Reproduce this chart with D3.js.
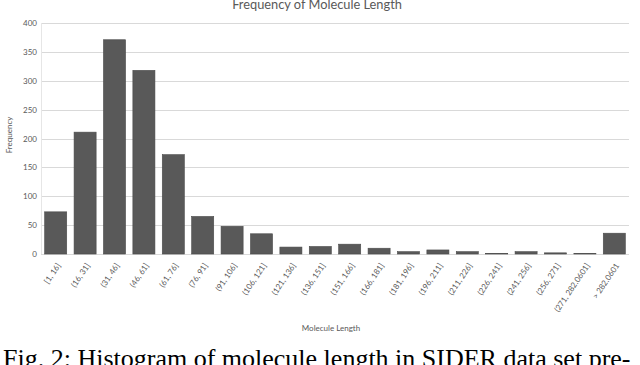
<!DOCTYPE html>
<html>
<head>
<meta charset="utf-8">
<script src="https://cdn.jsdelivr.net/npm/d3@7"></script>
<style>
  body { margin: 0; background: #fff; }
  svg { display: block; }
</style>
</head>
<body>
<script>
let bins = ['[1, 16]', '(16, 31]', '(31, 46]', '(46, 61]', '(61, 76]', '(76, 91]',
  '(91, 106]', '(106, 121]', '(121, 136]', '(136, 151]', '(151, 166]', '(166, 181]',
  '(181, 196]', '(196, 211]', '(211, 226]', '(226, 241]', '(241, 256]', '(256, 271]',
  '(271, 282.0601]', '> 282.0601']
let counts = [73, 211, 371, 318, 172, 65, 48, 35, 12, 13, 17, 10, 4, 7, 4, 1, 4, 2, 1, 36]
let yTicks = [0, 50, 100, 150, 200, 250, 300, 350, 400]

let width = 640,
  height = 365

let margin = { top: 23, left: 41, right: 11, bottom: 111 }

let svg = d3.select('body')
  .append('svg')
  .attr('width', width)
  .attr('height', height)

let x = d3.scaleBand()
  .domain(bins)
  .range([margin.left, width - margin.right])
  .paddingInner(0.25)
  .paddingOuter(0.125)

let y = d3.scaleLinear()
  .domain([0, 400])
  .range([height - margin.bottom, margin.top])

let grey = '#595959'

// gridlines
svg.append('g')
  .selectAll('line')
  .data(yTicks)
  .enter()
  .append('line')
  .attr('x1', margin.left)
  .attr('x2', width - margin.right)
  .attr('y1', d => Math.round(y(d)) + 0.5)
  .attr('y2', d => Math.round(y(d)) + 0.5)
  .attr('stroke', '#d9d9d9')
  .attr('stroke-width', 1)

svg.append('line')
  .attr('x1', margin.left + 0.5)
  .attr('x2', margin.left + 0.5)
  .attr('y1', y(400))
  .attr('y2', y(0))
  .attr('stroke', '#e6e6e6')

// y tick labels
svg.append('g')
  .selectAll('text')
  .data(yTicks)
  .enter()
  .append('text')
  .attr('x', 37)
  .attr('y', d => y(d) + 3)
  .attr('text-anchor', 'end')
  .attr('font-family', 'Lato, sans-serif')
  .attr('font-size', '8px')
  .attr('fill', grey)
  .text(d => d)

// bars
svg.append('g')
  .selectAll('rect')
  .data(counts)
  .enter()
  .append('rect')
  .attr('x', (d, i) => x(bins[i]))
  .attr('y', d => y(d))
  .attr('width', x.bandwidth())
  .attr('height', d => y(0) - y(d))
  .attr('fill', '#595959')
  .attr('stroke', '#4a4a4a')
  .attr('stroke-width', 0.6)

// x tick labels
svg.append('g')
  .selectAll('text')
  .data(bins)
  .enter()
  .append('text')
  .attr('transform', d => {
    let cx = x(d) + x.bandwidth() / 2 + 3
    return `translate(${cx}, 264) rotate(-56)`
  })
  .attr('text-anchor', 'end')
  .attr('dy', '0.35em')
  .attr('font-family', 'Lato, sans-serif')
  .attr('font-size', '8px')
  .attr('fill', grey)
  .text(d => d)

// title
svg.append('text')
  .attr('x', 317)
  .attr('y', 9)
  .attr('text-anchor', 'middle')
  .attr('font-family', 'Lato, sans-serif')
  .attr('font-size', '12.8px')
  .attr('fill', grey)
  .text('Frequency of Molecule Length')

// axis titles
svg.append('text')
  .attr('transform', 'translate(12, 135) rotate(-90)')
  .attr('text-anchor', 'middle')
  .attr('font-family', 'Lato, sans-serif')
  .attr('font-size', '8px')
  .attr('fill', grey)
  .text('Frequency')

svg.append('text')
  .attr('x', 331)
  .attr('y', 331)
  .attr('text-anchor', 'middle')
  .attr('font-family', 'Lato, sans-serif')
  .attr('font-size', '8px')
  .attr('fill', grey)
  .text('Molecule Length')

// caption below the chart
svg.append('text')
  .attr('x', 3)
  .attr('y', 367)
  .attr('font-family', '"Liberation Serif", serif')
  .attr('font-size', '26px')
  .attr('fill', '#000')
  .text('Fig. 2: Histogram of molecule length in SIDER data set pre-')
</script>
</body>
</html>
